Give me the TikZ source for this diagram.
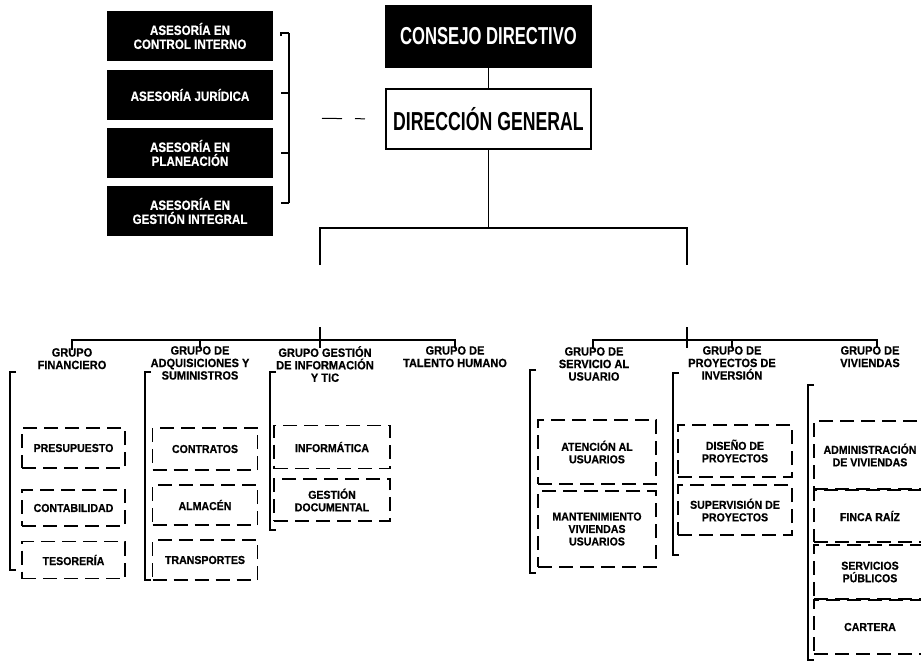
\documentclass[tikz,border=0pt]{standalone}
\usepackage{fontspec}
\setmainfont{Liberation Sans}[FakeStretch=0.92, BoldFeatures={FakeBold=0.6}]
\newfontfamily\headfont{Liberation Sans}[FakeStretch=0.68]
\newfontfamily\advfont{Liberation Sans}[FakeStretch=0.86, BoldFeatures={FakeBold=0.6}]
\tikzset{
  darkbox/.style={fill=black, text=white, inner sep=0pt, align=center},
  advbox/.style={darkbox, minimum width=166, minimum height=50, font=\advfont\bfseries\fontsize{13.5}{14}\selectfont},
  grptitle/.style={font=\bfseries\fontsize{12}{12.5}\selectfont, align=center, anchor=north, inner sep=0pt},
  subbox/.style={draw, line width=1.2pt, dash pattern=on 14pt off 7pt, align=center, inner sep=0pt,
    font=\bfseries\fontsize{11.5}{12.5}\selectfont},
  link/.style={line width=1.8pt},
  brace/.style={line width=1.5pt}
}
\begin{document}
\begin{tikzpicture}[x=1pt,y=-1pt]
\useasboundingbox (0,0) rectangle (921,667);
\node[darkbox, minimum width=207, minimum height=63, font=\headfont\bfseries\fontsize{24.5}{24.5}\selectfont] (consejo) at (488.5,36.5) {CONSEJO DIRECTIVO};
\node[draw, line width=2pt, inner sep=0pt, minimum width=205, minimum height=60, font=\headfont\bfseries\fontsize{26}{26}\selectfont] (direccion) at (488.5,119) {DIRECCIÓN GENERAL};
\draw[link](consejo) -- (direccion);
\node[advbox] (ase1) at (190,36) {ASESORÍA EN\\CONTROL INTERNO};
\node[advbox] (ase2) at (190,95) {ASESORÍA JURÍDICA};
\node[advbox] (ase3) at (190,153) {ASESORÍA EN\\PLANEACIÓN};
\node[advbox] (ase4) at (190,211) {ASESORÍA EN\\GESTIÓN INTEGRAL};
\coordinate (brtop) at (289,33);
\coordinate (brbot) at (289,203);
\coordinate (brmid) at (289,118);
\draw[brace](brtop) -- (brbot);
\draw[brace]([xshift=8pt]ase1.east) |- (brtop);
\draw[brace]([xshift=8pt,yshift=2pt]ase2.east) -- ++(8,0);
\draw[brace]([xshift=8pt]ase3.east) -- ++(8,0);
\draw[brace]([xshift=8pt,yshift=8pt]ase4.east) -- (brbot);
\draw[line width=1pt, dash pattern=on 20pt off 13pt on 10pt off 60pt, shorten <=33pt, shorten >=20pt](brmid) -- (direccion.west);
\coordinate (bar0) at (488.5,228);
\coordinate (barL) at (320,228);
\coordinate (barR) at (687,228);
\coordinate (subL) at (320,265);
\coordinate (subR) at (687,265);
\coordinate (subLb) at (320,327);
\coordinate (subRb) at (687,327);
\draw[link](direccion) -- (bar0);
\draw[link](subL) -- (barL) -- (barR) -- (subR);
\node[grptitle] (fin) at (72,348) {GRUPO\\FINANCIERO};
\node[grptitle] (adq) at (200,346) {GRUPO DE\\ADQUISICIONES Y\\SUMINISTROS};
\node[grptitle] (tic) at (325,346) {GRUPO GESTIÓN\\DE INFORMACIÓN\\Y TIC};
\node[grptitle] (tal) at (455,346) {GRUPO DE\\TALENTO HUMANO};
\node[grptitle] (ser) at (594,347) {GRUPO DE\\SERVICIO AL\\USUARIO};
\node[grptitle] (pro) at (732,346) {GRUPO DE\\PROYECTOS DE\\INVERSIÓN};
\node[grptitle] (viv) at (870,346) {GRUPO DE\\VIVIENDAS};
\coordinate (barA) at (72,340);
\coordinate (barB) at (455,340);
\coordinate (barC) at (593,340);
\coordinate (barD) at (877,340);
\draw[link]([yshift=-2pt]fin.north) -- (barA) -- (barB) -- ([yshift=-2pt]tal.north);
\draw[link]([yshift=-2pt]adq.north) -- (adq.north |- barA);
\draw[link](subLb) -- ([yshift=-2pt]subLb |- tic.north);
\draw[link]([yshift=-2pt]ser.north -| barC) -- (barC) -- (barD) -- ([yshift=-2pt]barD |- viv.north);
\draw[link]([yshift=-2pt]pro.north) -- (pro.north |- barC);
\draw[link](subRb) -- ([yshift=-2pt]subRb |- pro.north);
\draw[brace](16,372) -- (10,372) -- (10,570) -- (16,570);
\node[subbox, minimum width=103, minimum height=40] (presu) at (73.5,448) {PRESUPUESTO};
\node[subbox, minimum width=103, minimum height=36] (conta) at (73.5,508) {CONTABILIDAD};
\node[subbox, minimum width=103, minimum height=37] (teso) at (73.5,560) {TESORERÍA};
\draw[brace](151,372) -- (145,372) -- (145,580) -- (151,580);
\node[subbox, minimum width=105, minimum height=42] (contra) at (205,449) {CONTRATOS};
\node[subbox, minimum width=105, minimum height=40] (alma) at (205,505) {ALMACÉN};
\node[subbox, minimum width=105, minimum height=40] (trans) at (205,560) {TRANSPORTES};
\draw[brace](276,372) -- (270,372) -- (270,530) -- (276,530);
\node[subbox, minimum width=116, minimum height=43] (info) at (332,447) {INFORMÁTICA};
\node[subbox, minimum width=116, minimum height=42] (gesdoc) at (332,500) {GESTIÓN\\DOCUMENTAL};
\draw[brace](536,370) -- (530,370) -- (530,573) -- (536,573);
\node[subbox, minimum width=118, minimum height=64] (aten) at (597,452) {ATENCIÓN AL\\USUARIOS};
\node[subbox, minimum width=118, minimum height=76] (mant) at (597,529) {MANTENIMIENTO\\VIVIENDAS\\USUARIOS};
\draw[brace](679,373) -- (673,373) -- (673,555) -- (679,555);
\node[subbox, minimum width=114, minimum height=52] (dise) at (735,451) {DISEÑO DE\\PROYECTOS};
\node[subbox, minimum width=114, minimum height=50] (super) at (735,510) {SUPERVISIÓN DE\\PROYECTOS};
\draw[brace](814,385) -- (808,385) -- (808,660) -- (814,660);
\node[subbox, minimum width=112, minimum height=68] (admin) at (870,455) {ADMINISTRACIÓN\\DE VIVIENDAS};
\node[subbox, minimum width=112, minimum height=52] (finca) at (870,516) {FINCA RAÍZ};
\node[subbox, minimum width=112, minimum height=54] (servi) at (870,572) {SERVICIOS\\PÚBLICOS};
\node[subbox, minimum width=112, minimum height=54] (carte) at (870,627) {CARTERA};
\end{tikzpicture}
\end{document}
